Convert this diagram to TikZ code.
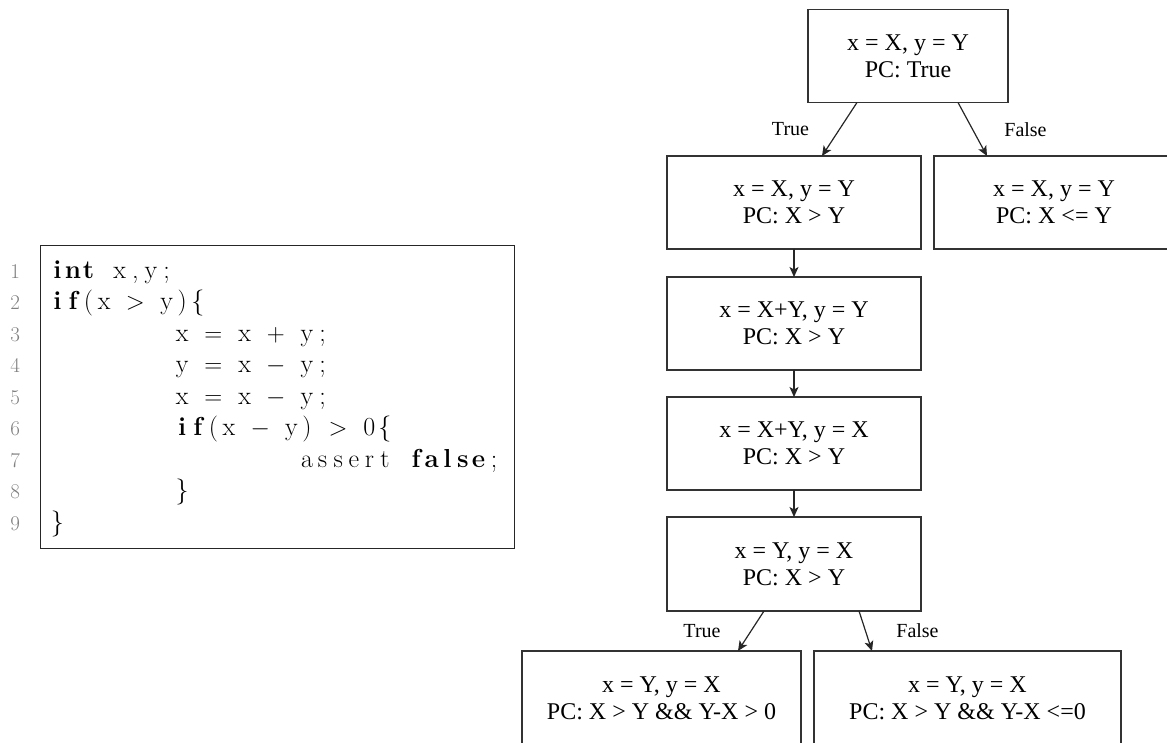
\documentclass[tikz,border=0pt]{standalone}
\usepackage{fontspec}
\usepackage{tikz}
\usetikzlibrary{positioning}
\usetikzlibrary{arrows.meta}
\newfontfamily\boxfont{Liberation Serif}

% fixed-column listing: every token gets one column
\newlength\colw
\setlength\colw{15.6pt}
\def\spreadend{spreadend}
\def\kwon{kwon}
\def\kwoff{kwoff}
\def\tab{tab}
\def\ceq{$=$}
\def\cgt{$>$}
\def\cplus{$+$}
\def\cminus{$-$}
\def\codeline#1{\spreadnext#1\spreadend}
\def\spreadnext#1{%
  \ifx#1\spreadend \let\spreadgo\relax
  \else
    \ifx#1\kwon \bfseries
    \else\ifx#1\kwoff \mdseries
    \else\ifx#1\tab \hspace*{8\colw}%
    \else \makebox[\colw]{#1}%
    \fi\fi\fi
    \let\spreadgo\spreadnext
  \fi\spreadgo}

\begin{document}
\begin{tikzpicture}[x=1pt,y=1pt,->,>={Stealth[length=10pt,width=9pt,inset=2.5pt]},
  line width=1.2pt,draw=black!85,
  state node/.style={rectangle,draw=black!80,line width=1.3pt,align=center,
    inner sep=0pt,outer sep=0pt,minimum height=93pt,
    font=\boxfont\fontsize{24pt}{27pt}\selectfont},
  branch label/.style={font=\boxfont\fontsize{20pt}{24pt}\selectfont},
  lineno/.style={inner sep=0pt,text=black!50,font=\fontsize{21pt}{24pt}\selectfont},
  codetext/.style={inner sep=0pt,font=\fontsize{26pt}{31.5pt}\selectfont}]

  \useasboundingbox (0,0) rectangle (1167,742);
  \clip (0,0) rectangle (1167,742);

  % the program
  \node[draw=black!85,line width=1pt,inner sep=0pt,outer sep=0pt,
    minimum width=474pt,minimum height=303pt] (code) at (277,344.5) {};
  \foreach \n/\src in {
      1/{\kwon int\kwoff\ x,y;},
      2/{\kwon if\kwoff(x\ \cgt\ y)\{},
      3/{\tab x\ \ceq\ x\ \cplus\ y;},
      4/{\tab y\ \ceq\ x\ \cminus\ y;},
      5/{\tab x\ \ceq\ x\ \cminus\ y;},
      6/{\tab\kwon if\kwoff(x\ \cminus\ y)\ \cgt\ 0\{},
      7/{\tab\tab assert\ \kwon false\kwoff;},
      8/{\tab\}},
      9/{\}}} {
    \node[lineno,anchor=base east] (num\n) at (20.5,{463.5-31.5*(\n-1)}) {\n};
    \node[codetext,anchor=base west] (line\n) at (49,{463.5-31.5*(\n-1)})
      {\expandafter\codeline\expandafter{\src}};
  }

  % symbolic execution tree
  \node[state node,minimum width=200pt] (root) at (908,686) {x = X, y = Y\\PC: True};
  \node[state node,minimum width=254pt] (t1) at (794,539.5) {x = X, y = Y\\PC: X > Y};
  \node[state node,minimum width=240pt] (f1) at (1054,539.5) {x = X, y = Y\\PC: X <= Y};
  \node[state node,minimum width=254pt,below=28pt of t1] (t2) {x = X+Y, y = Y\\PC: X > Y};
  \node[state node,minimum width=254pt,below=27pt of t2] (t3) {x = X+Y, y = X\\PC: X > Y};
  \node[state node,minimum width=254pt,minimum height=94pt,below=27pt of t3] (t4) {x = Y, y = X\\PC: X > Y};
  \node[state node,minimum width=279pt,minimum height=94pt] (t5) at (661.5,44) {x = Y, y = X\\PC: X > Y \&\& Y-X > 0};
  \node[state node,minimum width=307pt,minimum height=94pt] (f5) at (967.5,44) {x = Y, y = X\\PC: X > Y \&\& Y-X <=0};

  \draw ([xshift=-51pt]root.south) -- ([xshift=28pt]t1.north)
    node[midway,xshift=-49pt,branch label] (c1) {True};
  \draw ([xshift=50pt]root.south) -- ([xshift=-67pt]f1.north)
    node[midway,xshift=53pt,branch label] (c2) {False};
  \draw (t1) -- (t2);
  \draw (t2) -- (t3);
  \draw (t3) -- (t4);
  \draw ([xshift=-30pt]t4.south) -- ([xshift=76.5pt]t5.north)
    node[midway,xshift=-49pt,branch label] (c3) {True};
  \draw ([xshift=65pt]t4.south) -- ([xshift=-95.5pt]f5.north)
    node[midway,xshift=52pt,branch label] (c4) {False};
\end{tikzpicture}
\end{document}
